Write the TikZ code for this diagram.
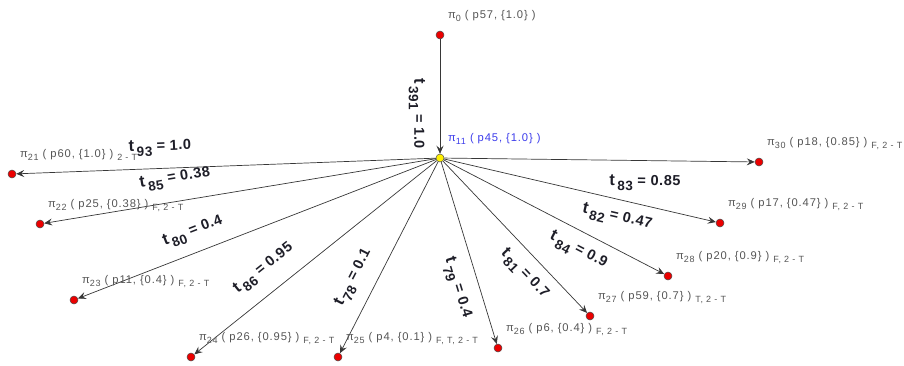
\documentclass[tikz,border=0pt]{standalone}
\usepackage{fontspec}
\setmainfont{Liberation Sans}
\newfontfamily\plabelfont[LetterSpace=8]{Liberation Sans}
\newfontfamily\elabelfont[LetterSpace=4]{Liberation Sans}
\usetikzlibrary{arrows.meta,calc}
\definecolor{lblgray}{RGB}{85,85,85}
\definecolor{lblblue}{RGB}{60,60,235}
\definecolor{edgegray}{RGB}{55,55,55}
\definecolor{dotred}{RGB}{235,0,0}
\definecolor{dotyellow}{RGB}{255,240,0}
\definecolor{labeldark}{RGB}{30,30,40}
\newcommand{\psub}[1]{\raisebox{-3.8pt}{\fontsize{9}{10}\selectfont #1}}
\newcommand{\esub}[1]{\raisebox{-5.5pt}{\fontsize{13.5}{14}\selectfont #1}}
\newcommand{\tletter}{{\fontsize{16.5}{17}\selectfont t}}
\tikzset{
  state/.style={circle, draw=black!70, line width=0.5pt, fill=dotred, minimum size=8pt, inner sep=0pt},
  hub/.style={state, fill=dotyellow},
  plabel/.style={anchor=base west, inner sep=0pt, text=lblgray, font=\plabelfont\fontsize{11.2}{12}\selectfont},
  conn/.style={draw=edgegray, line width=0.7pt, -{Stealth[length=8pt,width=7pt,inset=3pt]}},
  elabel/.style={inner sep=0pt, text=labeldark, font=\elabelfont\bfseries\fontsize{14.5}{16}\selectfont},
}
\begin{document}
\begin{tikzpicture}[x=1pt,y=-1pt]
\useasboundingbox (0,0) rectangle (904,365);
% states
\node[state] (p0)  at (440,35)  {};
\node[hub]   (p11) at (440,158) {};
\node[state] (p21) at (12,174)  {};
\node[state] (p22) at (40,224)  {};
\node[state] (p23) at (74,300)  {};
\node[state] (p24) at (191,357) {};
\node[state] (p25) at (338,357) {};
\node[state] (p26) at (498,348) {};
\node[state] (p27) at (590,316) {};
\node[state] (p28) at (668,276) {};
\node[state] (p29) at (720,223) {};
\node[state] (p30) at (759,162) {};
% connectors
\draw[conn] (p0) -- (p11);
\draw[conn] (p11) -- (p21);
\draw[conn] (p11) -- (p22);
\draw[conn] (p11) -- (p23);
\draw[conn] (p11) -- (p24);
\draw[conn] (p11) -- (p25);
\draw[conn] (p11) -- (p26);
\draw[conn] (p11) -- (p27);
\draw[conn] (p11) -- (p28);
\draw[conn] (p11) -- (p29);
\draw[conn] (p11) -- (p30);
% state labels
\node[plabel] (l0)  at ($(p0)+(8,-17)$)  {π\psub{0} ( p57, \{1.0\} )};
\node[plabel, text=lblblue] (l11) at ($(p11)+(8,-17)$) {π\psub{11} ( p45, \{1.0\} )};
\node[plabel] (l21) at ($(p21)+(8,-17)$) {π\psub{21} ( p60, \{1.0\} ) \psub{2 - T}};
\node[plabel] (l22) at ($(p22)+(8,-17)$) {π\psub{22} ( p25, \{0.38\} ) \psub{F, 2 - T}};
\node[plabel] (l23) at ($(p23)+(8,-17)$) {π\psub{23} ( p11, \{0.4\} ) \psub{F, 2 - T}};
\node[plabel] (l24) at ($(p24)+(8,-17)$) {π\psub{24} ( p26, \{0.95\} ) \psub{F, 2 - T}};
\node[plabel] (l25) at ($(p25)+(8,-17)$) {π\psub{25} ( p4, \{0.1\} ) \psub{F, T, 2 - T}};
\node[plabel] (l26) at ($(p26)+(8,-17)$) {π\psub{26} ( p6, \{0.4\} ) \psub{F, 2 - T}};
\node[plabel] (l27) at ($(p27)+(8,-17)$) {π\psub{27} ( p59, \{0.7\} ) \psub{T, 2 - T}};
\node[plabel] (l28) at ($(p28)+(8,-17)$) {π\psub{28} ( p20, \{0.9\} ) \psub{F, 2 - T}};
\node[plabel] (l29) at ($(p29)+(8,-17)$) {π\psub{29} ( p17, \{0.47\} ) \psub{F, 2 - T}};
\node[plabel] (l30) at ($(p30)+(8,-17)$) {π\psub{30} ( p18, \{0.85\} ) \psub{F, 2 - T}};
% connector labels
\node[elabel, rotate=-90]   (e391) at (417,113.5) {\tletter\,\esub{391} = 1.0};
\node[elabel, rotate=2.1]   (e93)  at (160,148) {\tletter\,\esub{93} = 1.0};
\node[elabel, rotate=9.4]   (e85)  at (175,179) {\tletter\,\esub{85} = 0.38};
\node[elabel, rotate=21.2]  (e80)  at (193,232) {\tletter\,\esub{80} = 0.4};
\node[elabel, rotate=38.6]  (e86)  at (264,269) {\tletter\,\esub{86} = 0.95};
\node[elabel, rotate=62.9]  (e78)  at (354,278) {\tletter\,\esub{78} = 0.1};
\node[elabel, rotate=-73.0] (e79)  at (457,288) {\tletter\,\esub{79} = 0.4};
\node[elabel, rotate=-46.5] (e81)  at (524,274) {\tletter\,\esub{81} = 0.7};
\node[elabel, rotate=-27.4] (e84)  at (578,251) {\tletter\,\esub{84} = 0.9};
\node[elabel, rotate=-13.1] (e82)  at (617,218) {\tletter\,\esub{82} = 0.47};
\node[elabel, rotate=-0.7]  (e83)  at (645,183) {\tletter\,\esub{83} = 0.85};
\end{tikzpicture}
\end{document}
